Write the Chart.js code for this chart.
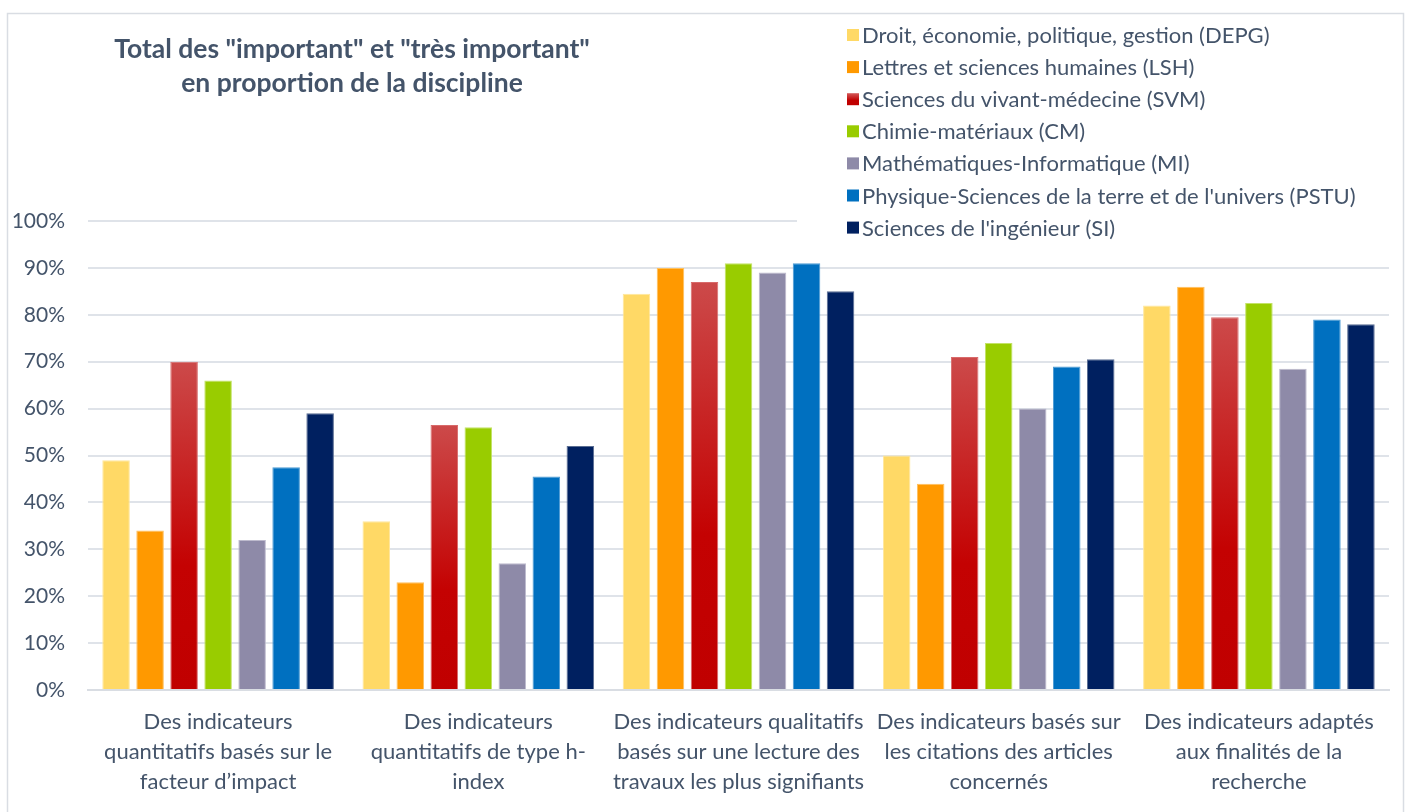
<!DOCTYPE html>
<html>
<head>
<meta charset="utf-8">
<script src="https://cdn.jsdelivr.net/npm/chart.js@4/dist/chart.umd.min.js"></script>
<style>
html,body{margin:0;padding:0;background:#fff;}
#wrap{width:1408px;height:812px;position:relative;}
</style>
</head>
<body>
<div id="wrap"><canvas id="c" width="1408" height="812"></canvas></div>
<script>
// ---- DATA ----
const categories = [
  ["Des indicateurs", "quantitatifs basés sur le", "facteur d’impact"],
  ["Des indicateurs", "quantitatifs de type h-", "index"],
  ["Des indicateurs qualitatifs", "basés sur une lecture des", "travaux les plus signifiants"],
  ["Des indicateurs basés sur", "les citations des articles", "concernés"],
  ["Des indicateurs adaptés", "aux finalités de la", "recherche"]
];
const seriesNames = [
  "Droit, économie, politique, gestion (DEPG)",
  "Lettres et sciences humaines (LSH)",
  "Sciences du vivant-médecine (SVM)",
  "Chimie-matériaux (CM)",
  "Mathématiques-Informatique (MI)",
  "Physique-Sciences de la terre et de l'univers (PSTU)",
  "Sciences de l'ingénieur (SI)"
];
const DEPG = [49, 36, 84.5, 50, 82];
const LSH  = [34, 23, 90, 44, 86];
const SVM  = [70, 56.5, 87, 71, 79.5];
const CM   = [66, 56, 91, 74, 82.5];
const MI   = [32, 27, 89, 60, 68.5];
const PSTU = [47.5, 45.5, 91, 69, 79];
const SI   = [59, 52, 85, 70.5, 78];
const yTicks = [0, 10, 20, 30, 40, 50, 60, 70, 80, 90, 100];
const titleLines = ['Total des "important" et "très important"', 'en proportion de la discipline'];

// ---- STYLES ----
const fillColors   = ['#ffd966', '#ff9900', '#c00000', '#99cc00', '#8e8aa8', '#0070c0', '#002060'];
const borderColors = ['#ffe79c', '#ffc05c', '#d86a6a', '#c3e266', '#bdbacd', '#4d9bd3', '#5a6d92'];
const textColor = '#44546a';
const FONT = 'Lato, "Open Sans", sans-serif';
const allSeries = [DEPG, LSH, SVM, CM, MI, PSTU, SI];

function redGradient(ctx) {
  const chart = ctx.chart;
  if (!chart.chartArea || ctx.raw === undefined) return '#c00000';
  const y = chart.scales.y;
  const top = y.getPixelForValue(ctx.raw);
  const bot = y.getPixelForValue(0);
  const g = chart.ctx.createLinearGradient(0, top, 0, bot);
  g.addColorStop(0, '#cc4a4a');
  g.addColorStop(0.62, '#c40202');
  g.addColorStop(1, '#c00000');
  return g;
}

const datasets = allSeries.map((vals, i) => ({
  label: seriesNames[i],
  data: vals,
  backgroundColor: i === 2 ? redGradient : fillColors[i],
  borderColor: borderColors[i],
  borderWidth: 1,
  categoryPercentage: 0.915,
  barPercentage: 0.81
}));

const decor = {
  id: 'decor',
  beforeDraw(chart) {
    const c = chart.ctx;
    c.save();
    c.fillStyle = '#fff';
    c.fillRect(0, 0, chart.width, chart.height);
    c.strokeStyle = '#d9dde3';
    c.lineWidth = 1.5;
    c.strokeRect(7.5, 13.5, 1396, 820);
    c.restore();
  },
  afterDraw(chart) {
    const c = chart.ctx;
    c.save();
    // title
    c.fillStyle = textColor;
    c.font = 'bold 26.5px ' + FONT;
    c.textAlign = 'center';
    c.textBaseline = 'middle';
    titleLines.forEach((t, i) => c.fillText(t, 352, 49 + i * 34));
    // legend
    c.fillStyle = '#fff';
    c.fillRect(797, 15, 600, 230);
    c.font = '22px ' + FONT;
    c.textAlign = 'left';
    c.textBaseline = 'middle';
    seriesNames.forEach((name, i) => {
      const cy = 35 + i * 32.1;
      if (i === 2) {
        const g = c.createLinearGradient(0, cy - 6, 0, cy + 6);
        g.addColorStop(0, '#d35a5a'); g.addColorStop(0.6, '#c00000'); g.addColorStop(1, '#c00000');
        c.fillStyle = g;
      } else c.fillStyle = fillColors[i];
      c.fillRect(847, cy - 6, 12, 12);
      c.fillStyle = textColor;
      c.fillText(name, 862, cy + 1);
    });
    c.restore();
  }
};

new Chart(document.getElementById('c'), {
  type: 'bar',
  data: { labels: categories, datasets },
  options: {
    responsive: false,
    animation: false,
    layout: { padding: { top: 221, right: 19, left: 0, bottom: 0 } },
    plugins: { legend: { display: false }, title: { display: false }, tooltip: { enabled: false } },
    scales: {
      x: {
        grid: { display: false, drawTicks: false },
        border: { display: true, color: '#d9dde3', width: 2 },
        ticks: { color: textColor, font: { family: FONT, size: 22, lineHeight: 1.36 }, autoSkip: false, maxRotation: 0, padding: 17 },
        afterFit(s) { s.height = 122; }
      },
      y: {
        min: 0, max: 100,
        afterBuildTicks(s) { s.ticks = yTicks.map(v => ({ value: v })); },
        grid: { color: '#dfe3e9', lineWidth: 2, drawTicks: false },
        border: { display: false },
        ticks: { color: textColor, font: { family: FONT, size: 21 }, padding: 23, callback: v => v + '%' },
        afterFit(s) { s.width = 88; }
      }
    }
  },
  plugins: [decor]
});
</script>
</body>
</html>
